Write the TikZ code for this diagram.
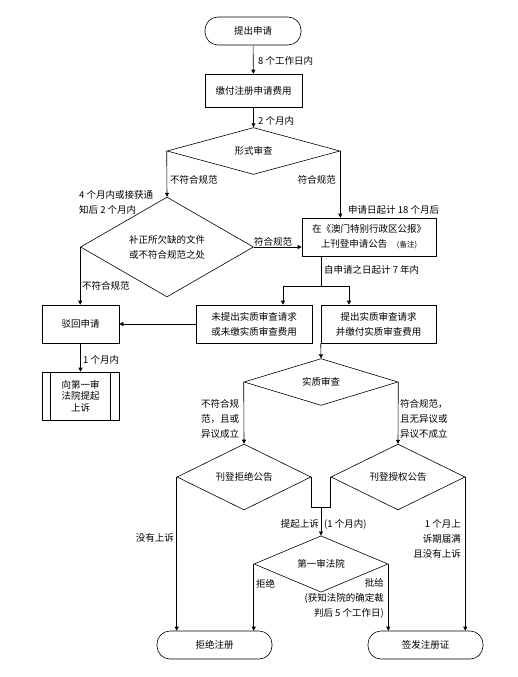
\documentclass[tikz,border=0pt]{standalone}
\usepackage{fontspec}
\setmainfont{Noto Sans CJK SC}
\usetikzlibrary{shapes.geometric,arrows.meta}

\begin{document}
\begin{tikzpicture}[x=1pt,y=-1pt,
    every node/.style={font=\fontsize{9.5}{15}\selectfont},
    box/.style={draw,line width=0.6pt,rectangle,inner sep=0pt,align=center},
    term/.style={draw,line width=0.6pt,rectangle,rounded corners=13pt,inner sep=0pt,minimum height=28pt},
    decision/.style={draw,line width=0.6pt,diamond,inner sep=0pt,align=center},
    arr/.style={-{Triangle[length=4pt,width=4pt]},line width=0.6pt},
    lbl/.style={inner sep=0pt}]
    \useasboundingbox (0,0) rectangle (518,677);
    % Filing and formal check
    \node[term,minimum width=96pt] (start) at (253,31) {提出申请};
    \node[box,minimum width=97pt,minimum height=33pt] (fee) at (253.5,90.5) {缴付注册申请费用};
    \node[decision,minimum width=173pt,minimum height=38pt] (formal) at (253.5,151) {形式审查};
    \node[decision,minimum width=173pt,minimum height=96pt] (fix) at (167,247) {补正所欠缺的文件\\或不符合规范之处};
    \node[box,minimum width=134pt,minimum height=38pt] (pub) at (369,237) {在《澳门特别行政区公报》\\上刊登申请公告\quad{\fontsize{7.5}{9}\selectfont(备注)}};
    % Rejection branch
    \node[box,minimum width=77pt,minimum height=38pt] (reject) at (80.5,324) {驳回申请};
    \node[box,minimum width=77pt,minimum height=48pt,font=\fontsize{9.5}{11.5}\selectfont] (appeal) at (80.5,396) {向第一审\\法院提起\\上诉};
    \draw[line width=0.6pt] ([xshift=9pt]appeal.north west) -- ([xshift=9pt]appeal.south west);
    \draw[line width=0.6pt] ([xshift=-9pt]appeal.north east) -- ([xshift=-9pt]appeal.south east);
    % Substantive examination
    \node[box,minimum width=116pt,minimum height=38pt] (noexam) at (254,324) {未提出实质审查请求\\或未缴实质审查费用};
    \node[box,minimum width=115pt,minimum height=38pt] (exam) at (378.5,324) {提出实质审查请求\\并缴付实质审查费用};
    \node[decision,minimum width=154pt,minimum height=38pt] (subst) at (321,382) {实质审查};
    \node[decision,minimum width=134pt,minimum height=38pt] (refpub) at (244,477) {刊登拒绝公告};
    \node[decision,minimum width=134pt,minimum height=38pt] (grantpub) at (398,477) {刊登授权公告};
    \node[decision,minimum width=134pt,minimum height=38pt] (court) at (321,564) {第一审法院};
    % End states
    \node[term,minimum width=115pt] (refuse) at (214.5,645) {拒绝注册};
    \node[term,minimum width=115pt] (issue) at (425.5,645) {签发注册证};

    % Connectors
    \draw[arr] (start) -- (fee);
    \draw[arr] (fee) -- (formal);
    \draw[arr] (formal.west) -- (fix.north);
    \draw[arr] (formal.east) -- (formal.east |- pub.north);
    \draw[arr] (fix.east) -- (fix.east -| pub.west);
    \draw[arr] (fix.west) -- (fix.west |- reject.north);
    \coordinate (split) at (321,286);
    \coordinate (toleft) at (283,286);
    \coordinate (toright) at (349,286);
    \draw[line width=0.6pt] (split |- pub.south) -- (split);
    \draw[arr] (split) -- (toleft) -- (toleft |- noexam.north);
    \draw[arr] (split) -- (toright) -- (toright |- exam.north);
    \draw[arr] (noexam) -- (reject);
    \draw[arr] (reject) -- (appeal);
    \draw[arr] (exam.south west) -- (subst.north);
    \draw[arr] (subst.west) -- (refpub.north);
    \draw[arr] (subst.east) -- (grantpub.north);
    \coordinate (join) at (321,507);
    \draw[line width=0.6pt] (refpub.east) |- (join);
    \draw[line width=0.6pt] (grantpub.west) |- (join);
    \draw[arr] (join) -- (court.north);
    \draw[arr] (refpub.west) -- (refpub.west |- refuse.north);
    \draw[arr] (court.west) -- (court.west |- refuse.north);
    \draw[arr] (court.east) -- (court.east |- issue.north);
    \draw[arr] (grantpub.east) -- (grantpub.east |- issue.north);

    % Labels
    \node[lbl,anchor=west] (ldays) at (258,61) {8 个工作日内};
    \node[lbl,anchor=west] (ltwom) at (258,121) {2 个月内};
    \node[lbl,anchor=west] (lnoa) at (170,180) {不符合规范};
    \node[lbl,anchor=east] (lyesa) at (336,180) {符合规范};
    \node[lbl,anchor=west] (leighteen) at (348,210) {申请日起计 18 个月后};
    \node[lbl,anchor=west,align=left] (lfour) at (79,202.5) {4 个月内或接获通\\知后 2 个月内};
    \node[lbl,anchor=south] (lyesb) at (273,246) {符合规范};
    \node[lbl,anchor=west] (lnob) at (82,286) {不符合规范};
    \node[lbl,anchor=west] (lseven) at (324,270) {自申请之日起计 7 年内};
    \node[lbl,anchor=west] (lonem) at (83,360) {1 个月内};
    \node[lbl,anchor=west,align=left] (lnoc) at (201,419) {不符合规\\范，且或\\异议成立};
    \node[lbl,anchor=west,align=left] (lyesc) at (400,419) {符合规范，\\且无异议或\\异议不成立};
    \node[lbl,anchor=east] (lnoappeal) at (174,538) {没有上诉};
    \node[lbl,anchor=east] (lappeal) at (319,524) {提起上诉};
    \node[lbl,anchor=west] (lappealm) at (324,524) {(1 个月内)};
    \node[lbl,anchor=east,align=right] (lexpire) at (461,539) {1 个月上\\诉期届满\\且没有上诉};
    \node[lbl,anchor=west] (lrefused) at (256,584) {拒绝};
    \node[lbl,anchor=east,align=right] (lgranted) at (384,598.5) {批给\\(获知法院的确定裁\\判后 5 个工作日)};
\end{tikzpicture}
\end{document}
